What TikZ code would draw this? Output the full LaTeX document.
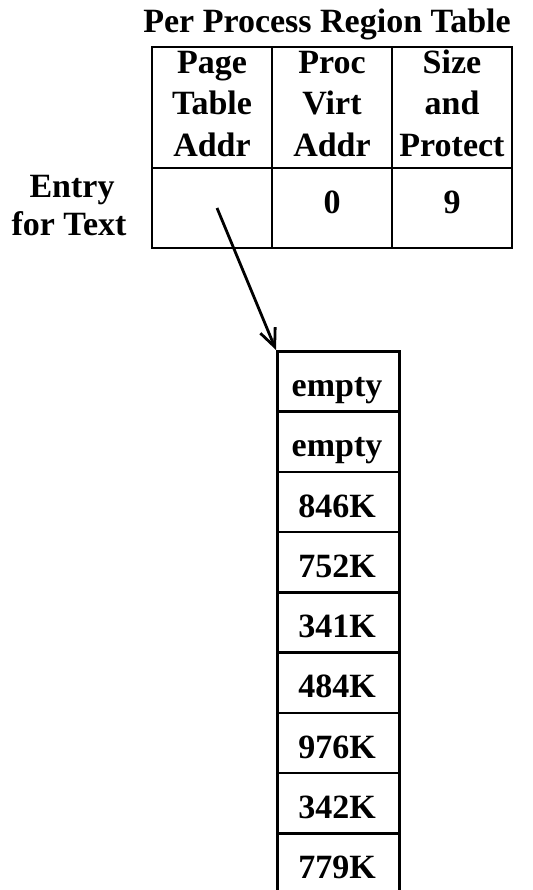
\documentclass[tikz,border=0pt]{standalone}
\usepackage{fontspec}
\setmainfont{Liberation Serif}
\usetikzlibrary{arrows.meta}
\begin{document}
\begin{tikzpicture}[x=1pt,y=-1pt,
  rule/.style={line width=2.6pt},
  txt/.style={anchor=base,inner sep=0pt,font=\fontsize{34}{41}\selectfont\bfseries},
  ptrline/.style={line width=2.8pt,-{Straight Barb[length=18pt,width=16pt,line width=2.8pt]}}]
\useasboundingbox (0,0) rectangle (532,890);
% upper table
\draw[rule] (152,47) rectangle (512,248);
\draw[rule] (152,168) -- (512,168);
\draw[rule] (272,47) -- (272,248);
\draw[rule] (392,47) -- (392,248);
\node[txt] (title) at (327,33) {Per Process Region Table};
\node[txt] (h1a) at (212,74) {Page};
\node[txt] (h1b) at (212,115) {Table};
\node[txt] (h1c) at (212,157) {Addr};
\node[txt] (h2a) at (332,74) {Proc};
\node[txt] (h2b) at (332,115) {Virt};
\node[txt] (h2c) at (332,157) {Addr};
\node[txt] (h3a) at (452,74) {Size};
\node[txt] (h3b) at (452,115) {and};
\node[txt] (h3c) at (452,157) {Protect};
\node[txt] (v2) at (332,214) {0};
\node[txt] (v3) at (452,214) {9};
\node[txt] (e1) at (72,198) {Entry};
\node[txt] (e2) at (69,236) {for Text};
% page table
\foreach \i/\t in {0/empty,1/empty,2/846K,3/752K,4/341K,5/484K,6/976K,7/342K,8/779K}{
  \pgfmathsetmacro{\top}{350+60.25*\i}
  \node[draw,rule,inner sep=0pt,minimum width=122pt,minimum height=60.25pt,anchor=north west] (r\i) at (276,\top) {};
  \node[txt] (l\i) at (337,\top+46.5) {\t};
}
\coordinate (ptr) at (217,208);
\draw[ptrline] (ptr) -- (r0.north west);
\end{tikzpicture}
\end{document}
